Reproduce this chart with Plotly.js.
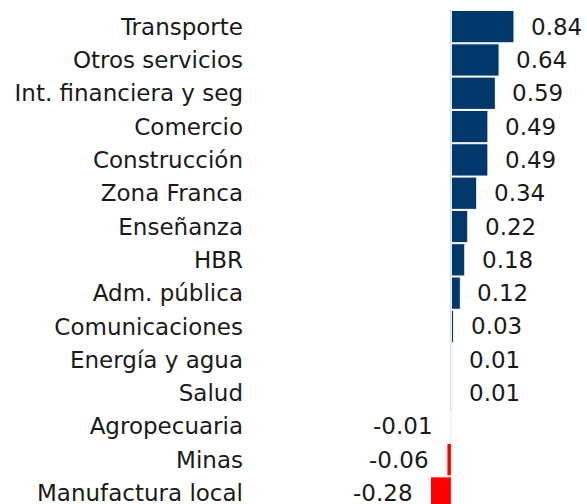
<!DOCTYPE html>
<html>
<head>
<meta charset="utf-8">
<script src="https://cdn.plot.ly/plotly-3.0.1.min.js"></script>
<style>
  html, body { margin: 0; padding: 0; background: #ffffff; }
  #chart { width: 587px; height: 504px; }
</style>
</head>
<body>
<div id="chart"></div>
<script>
const categories = [
  "Transporte", "Otros servicios", "Int. financiera y seg", "Comercio",
  "Construcción", "Zona Franca", "Enseñanza", "HBR", "Adm. pública",
  "Comunicaciones", "Energía y agua", "Salud", "Agropecuaria", "Minas",
  "Manufactura local"
];
const values = [0.84, 0.64, 0.59, 0.49, 0.49, 0.34, 0.22, 0.18, 0.12, 0.03, 0.01, 0.01, -0.01, -0.06, -0.28];
const valueLabels = ["0.84", "0.64", "0.59", "0.49", "0.49", "0.34", "0.22", "0.18", "0.12", "0.03", "0.01", "0.01", "-0.01", "-0.06", "-0.28"];

const POS = "#00386b", NEG = "#ff0000";
const FONT = "DejaVu Sans";
const TXT = "#1a1a1a";

const trace = {
  type: "bar",
  orientation: "h",
  y: categories,
  x: values,
  marker: {
    color: values.map(v => v >= 0 ? POS : NEG),
    line: { color: "#ffffff", width: 1 }
  },
  hoverinfo: "none"
};

const annotations = values.map((v, i) => ({
  x: v,
  y: categories[i],
  xref: "x",
  yref: "y",
  text: valueLabels[i],
  showarrow: false,
  xanchor: v >= 0 ? "left" : "right",
  xshift: v >= 0 ? 15 : -16,
  font: { family: FONT, size: 23, color: TXT }
}));

const layout = {
  width: 587,
  height: 504,
  margin: { l: 248, r: 0, t: 10, b: 0, pad: 0 },
  paper_bgcolor: "#ffffff",
  plot_bgcolor: "#ffffff",
  showlegend: false,
  bargap: 0.03,
  xaxis: {
    range: [-2.73, 1.82],
    showgrid: false,
    showticklabels: false,
    ticks: "",
    zeroline: true,
    zerolinecolor: "#d9d9d9",
    zerolinewidth: 2,
    fixedrange: true
  },
  yaxis: {
    type: "category",
    range: [14.33, -0.5],
    showgrid: false,
    zeroline: false,
    ticks: "",
    ticklabelstandoff: 4,
    tickfont: { family: FONT, size: 23, color: TXT },
    fixedrange: true
  },
  annotations: annotations
};

Plotly.newPlot("chart", [trace], layout, { staticPlot: true, displayModeBar: false });
</script>
</body>
</html>
